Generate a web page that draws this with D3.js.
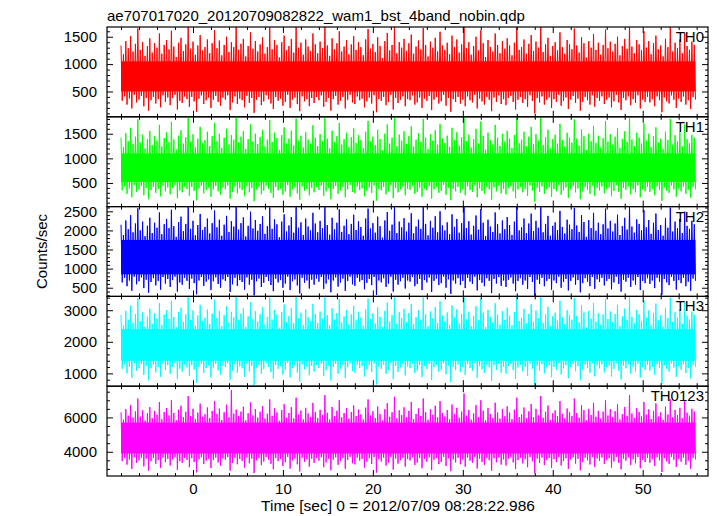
<!DOCTYPE html>
<html><head><meta charset="utf-8">
<script src="https://cdn.jsdelivr.net/npm/d3@7"></script>
<style>
body{margin:0;background:#fff}
svg{display:block}
text{font-family:"Liberation Sans",Arial,Helvetica,sans-serif;fill:#000}
</style>
</head><body>
<svg id="c" width="717" height="516"></svg>
<script>
// ---------------- DATA ----------------
const title = "ae707017020_20120709082822_wam1_bst_4band_nobin.qdp";
const xLabel = "Time [sec] 0 = 2012/07/09 08:28:22.986";
const yLabel = "Counts/sec";
const panelNames = ["TH0", "TH1", "TH2", "TH3", "TH0123"];
const panelColors = ["#ff0000", "#00ff00", "#0000ff", "#00ffff", "#ff00ff"];
const tStart = -8;         // first time bin [s]
const binWidth = 0.26667;  // width of one time bin [s]

// per-bin maximum / minimum count rate
const th0Hi = [1340,1180,1420,1290,1510,1230,1370,1650,1260,1400,1150,1330,1470,1210,1380,1300,1560,1190,1350,1440,
1270,1610,1320,1130,1390,1480,1240,1360,1700,1280,1410,1170,1340,1530,1250,1310,1450,1200,1380,1620,
1290,1430,1160,1350,1500,1220,1400,1310,1740,1260,1370,1460,1140,1330,1580,1280,1420,1230,1360,1490,
1190,1310,1670,1270,1440,1350,1120,1400,1520,1250,1330,1460,1210,1680,1300,1390,1170,1450,1320,1240,
1560,1360,1200,1410,1290,1730,1340,1150,1470,1270,1380,1600,1230,1320,1440,1180,1360,1510,1260,1400,
1310,1160,1450,1640,1280,1370,1220,1490,1330,1110,1420,1570,1250,1350,1700,1200,1400,1300,1460,1240,
1380,1540,1190,1320,1430,1270,1660,1350,1140,1410,1300,1480,1230,1590,1340,1260,1390,1180,1520,1310,
1450,1210,1360,1750,1290,1400,1170,1330,1500,1250,1620,1380,1130,1440,1310,1230,1560,1350,1200,1420,
1280,1470,1340,1160,1390,1690,1260,1310,1450,1190,1370,1530,1240,1410,1300,1720,1220,1360,1480,1150,
1330,1400,1250,1580,1310,1190,1440,1360,1270,1650,1340,1210,1490,1380,1120,1420,1300,1550,1260,1390,
1170,1350,1630,1290,1410,1230,1370,1500,1160,1330,1460,1280,1710,1320,1200,1440,1360,1250,1600,1300,
1420,1180,1380,1520,1270,1340,1140,1460,1310,1680,1230,1390,1290,1450,1200,1570,1330,1260,1410,1350];
const th0Lo = [330,410,260,370,190,440,300,350,420,230,380,150,340,400,280,360,210,430,310,390,
250,380,440,170,330,290,410,360,220,400,320,130,370,430,270,340,390,200,350,420,
310,240,390,350,430,160,300,410,270,370,340,210,420,290,380,110,350,400,250,320,
430,360,280,180,400,330,370,240,310,440,200,350,390,270,140,410,320,360,230,380,
290,400,340,430,220,310,380,150,360,420,260,330,400,190,350,440,300,270,410,340,
370,210,320,390,280,430,120,360,330,400,250,310,440,170,380,290,350,410,230,360,
340,430,260,300,390,200,370,330,420,160,350,400,280,320,440,240,380,130,360,310,
400,280,350,230,410,340,300,440,190,370,320,260,400,350,140,390,310,430,270,360,
250,380,420,310,170,350,400,290,360,220,430,330,100,380,300,410,260,350,390,200,
360,310,440,240,330,390,180,350,420,290,370,150,310,400,340,260,430,220,380,330,
410,270,350,390,210,320,440,300,160,380,340,410,250,360,290,430,190,350,310,400,
300,360,230,410,340,120,390,320,280,430,350,200,370,310,410,260,340,180,400,350];

const th1Hi = [1420,1230,1510,1350,1620,1290,1440,1790,1320,1480,1200,1390,1560,1270,1450,1360,1680,1240,1410,1530,
1330,1740,1380,1180,1460,1570,1300,1430,1850,1340,1490,1220,1400,1640,1310,1370,1540,1250,1450,1720,
1350,1500,1210,1420,1600,1280,1470,1380,1860,1320,1440,1550,1190,1390,1690,1340,1500,1290,1430,1580,
1240,1380,1780,1330,1520,1410,1170,1470,1630,1300,1400,1560,1260,1810,1360,1460,1220,1530,1380,1300,
1670,1420,1250,1490,1350,1870,1400,1200,1560,1330,1450,1720,1280,1390,1520,1230,1430,1610,1310,1470,
1370,1210,1540,1760,1340,1440,1270,1580,1390,1160,1500,1690,1300,1420,1830,1250,1480,1360,1550,1290,
1450,1650,1240,1380,1510,1330,1800,1420,1190,1490,1360,1570,1280,1700,1400,1310,1460,1230,1620,1370,
1530,1260,1430,1860,1350,1480,1220,1390,1600,1300,1750,1450,1180,1520,1370,1280,1680,1420,1250,1500,
1340,1560,1400,1210,1470,1820,1310,1380,1540,1240,1440,1640,1290,1490,1360,1850,1270,1430,1580,1200,
1390,1480,1300,1700,1370,1240,1520,1420,1320,1790,1400,1260,1590,1450,1170,1500,1350,1660,1310,1460,
1220,1410,1760,1340,1490,1280,1440,1610,1210,1390,1550,1330,1840,1380,1250,1520,1420,1300,1710,1360,
1500,1230,1450,1630,1320,1400,1190,1540,1370,1800,1280,1470,1350,1530,1240,1690,1390,1310,1480,1420];
const th1Lo = [350,430,280,390,210,460,320,370,440,250,400,170,360,420,300,380,230,450,330,410,
270,400,460,190,350,310,430,380,240,420,340,150,390,450,290,360,410,220,370,440,
330,260,410,370,450,180,320,430,290,390,360,230,440,310,400,130,370,420,270,340,
450,380,300,200,420,350,390,260,330,460,220,370,410,290,160,430,340,380,250,400,
310,420,360,450,240,330,400,170,380,440,280,350,420,210,370,460,320,290,430,360,
390,230,340,410,300,450,140,380,350,420,270,330,460,190,400,310,370,430,250,380,
360,450,280,320,410,220,390,350,440,180,370,420,300,340,460,260,400,150,380,330,
420,300,370,250,430,360,320,460,210,390,340,280,420,370,160,410,330,450,290,380,
270,400,440,330,190,370,420,310,380,240,450,350,120,400,320,430,280,370,410,220,
380,330,460,260,350,410,200,370,440,310,390,170,330,420,360,280,450,240,400,350,
430,290,370,410,230,340,460,320,180,400,360,430,270,380,310,450,210,370,330,420,
320,380,250,430,360,140,410,340,300,450,370,220,390,330,430,280,360,200,420,370];

const th2Hi = [2150,1880,2260,2030,2400,1950,2180,2580,2000,2230,1850,2120,2330,1930,2200,2070,2470,1900,2160,2300,
2060,2540,2110,1830,2220,2360,1980,2170,2640,2040,2250,1870,2140,2430,2010,2090,2310,1920,2190,2520,
2080,2280,1860,2150,2380,1960,2240,2100,2650,2020,2190,2340,1840,2120,2490,2050,2270,1990,2170,2370,
1910,2110,2600,2040,2290,2160,1820,2230,2420,1970,2130,2350,1940,2610,2070,2210,1880,2310,2100,2000,
2460,2180,1950,2250,2060,2650,2140,1890,2330,2030,2200,2550,1960,2120,2290,1900,2170,2410,2010,2240,
2090,1860,2310,2570,2050,2190,1940,2360,2110,1810,2260,2480,1990,2150,2630,1930,2230,2080,2320,1970,
2200,2450,1920,2100,2280,2040,2610,2170,1870,2250,2070,2370,1950,2500,2130,2000,2210,1900,2420,2090,
2300,1940,2190,2650,2060,2240,1890,2120,2390,2020,2560,2200,1850,2280,2100,1960,2470,2160,1920,2260,
2030,2350,2140,1880,2230,2620,2000,2080,2310,1930,2180,2440,1980,2250,2070,2640,1950,2170,2380,1860,
2120,2210,2010,2510,2090,1920,2280,2150,2030,2590,2130,1960,2400,2220,1830,2270,2060,2460,1990,2200,
1900,2160,2570,2050,2250,1970,2180,2410,1880,2110,2330,2020,2620,2100,1940,2290,2170,2000,2530,2080,
2270,1910,2200,2440,2010,2140,1860,2320,2070,2600,1970,2230,2060,2300,1930,2490,2120,2040,2250,2160];
const th2Lo = [640,760,540,690,420,790,590,670,770,490,710,370,650,750,560,680,450,780,610,730,
520,700,790,400,640,580,760,680,470,740,620,330,690,780,550,660,720,440,670,770,
600,500,720,680,780,390,590,760,550,700,650,450,770,580,710,300,670,740,520,630,
780,680,570,410,740,640,700,500,610,790,440,670,720,560,350,760,630,690,480,710,
580,740,660,780,470,610,720,380,690,770,530,640,740,420,680,790,590,550,760,660,
700,460,630,730,570,780,310,690,640,750,520,610,790,400,710,580,670,760,480,690,
660,780,540,600,730,440,700,640,770,390,680,740,570,620,790,500,720,340,690,610,
750,570,680,490,760,660,600,790,430,700,630,540,750,680,360,730,610,780,550,690,
520,710,770,610,410,680,750,580,690,470,780,650,290,710,600,760,540,680,730,450,
690,620,790,500,650,730,430,680,770,580,700,380,620,750,660,540,780,470,720,650,
760,560,680,730,460,640,790,600,400,710,660,760,520,690,580,780,440,680,620,750,
600,690,490,760,660,320,730,640,570,780,680,450,700,620,760,540,660,420,740,680];

const th3Hi = [2850,2520,2980,2700,3150,2600,2880,3380,2650,2930,2480,2800,3050,2570,2900,2740,3230,2540,2860,3000,
2720,3300,2790,2460,2940,3080,2630,2870,3440,2690,2990,2510,2830,3170,2660,2760,3020,2560,2890,3330,
2750,2980,2500,2840,3120,2610,2950,2780,3450,2680,2890,3060,2470,2810,3250,2710,2970,2640,2870,3090,
2550,2790,3400,2700,3010,2860,2450,2940,3180,2620,2820,3070,2590,3420,2740,2920,2530,3030,2780,2660,
3200,2880,2600,2960,2730,3450,2850,2520,3060,2700,2910,3350,2610,2800,3000,2550,2870,3140,2680,2950,
2770,2510,3020,3370,2720,2900,2580,3090,2790,2460,2980,3240,2640,2850,3430,2570,2940,2750,3040,2620,
2910,3190,2560,2780,3000,2690,3410,2870,2490,2960,2740,3100,2600,3280,2830,2650,2930,2530,3150,2770,
3030,2590,2880,3450,2710,2950,2500,2820,3130,2680,3360,2920,2470,3010,2790,2610,3220,2860,2540,2970,
2690,3080,2830,2520,2940,3420,2660,2760,3040,2580,2880,3190,2630,2990,2740,3440,2600,2870,3110,2490,
2810,2920,2670,3300,2780,2560,3000,2850,2700,3390,2820,2610,3160,2930,2450,2980,2730,3230,2640,2900,
2540,2860,3350,2720,2960,2620,2880,3170,2500,2800,3050,2690,3430,2790,2580,3010,2870,2660,3310,2760,
2990,2530,2910,3210,2680,2840,2480,3060,2750,3400,2630,2940,2770,3020,2570,3260,2830,2710,2960,2860];
const th3Lo = [1150,1290,1000,1210,860,1320,1080,1180,1300,950,1240,780,1160,1280,1030,1200,890,1310,1110,1260,
980,1220,1330,820,1150,1060,1280,1190,920,1260,1120,700,1210,1310,1010,1170,1250,870,1190,1300,
1090,960,1250,1200,1320,800,1080,1290,1020,1220,1160,890,1300,1060,1240,630,1180,1270,990,1140,
1320,1200,1040,840,1270,1150,1230,960,1110,1330,870,1180,1250,1030,740,1290,1130,1210,940,1240,
1060,1270,1170,1310,920,1100,1250,770,1200,1300,990,1150,1270,850,1190,1320,1070,1020,1280,1170,
1230,900,1130,1260,1040,1310,650,1210,1140,1280,980,1100,1330,820,1240,1050,1190,1290,940,1220,
1170,1310,1010,1090,1260,880,1230,1140,1300,790,1200,1270,1050,1120,1320,970,1250,720,1210,1100,
1280,1040,1200,950,1290,1170,1080,1330,860,1230,1130,1010,1280,1190,760,1260,1110,1310,1020,1210,
990,1240,1300,1100,830,1190,1270,1060,1210,920,1310,1150,620,1240,1090,1290,1000,1190,1260,880,
1210,1120,1330,970,1160,1260,850,1200,1300,1070,1230,780,1120,1280,1170,1020,1320,910,1250,1160,
1290,1030,1190,1250,900,1140,1320,1080,810,1240,1160,1290,990,1210,1060,1310,870,1190,1110,1270,
1090,1220,960,1300,1170,680,1260,1140,1050,1320,1190,890,1230,1120,1290,1010,1170,840,1270,1200];

const th0123Hi = [6300,5870,6480,6100,6720,6000,6350,7100,6050,6420,5820,6250,6600,5950,6380,6150,6900,5900,6320,6550,
6120,7000,6260,5840,6450,6680,6020,6330,7250,6080,6500,5910,6280,6800,6040,6180,6580,5960,6370,6950,
6200,6510,5850,6300,6740,6010,7600,6220,6460,6070,6340,6620,5830,6240,6880,6110,6490,5990,6330,6650,
5930,6210,7050,6090,6530,6290,5810,6430,6770,5980,6260,6600,5940,7150,6160,6400,5880,6560,6230,6030,
6850,6320,5960,6440,6130,7300,6270,5890,6610,6060,6390,7000,6000,6250,6540,5920,6310,6700,6080,6460,
6170,5880,6570,7050,6110,6360,5970,6630,6190,5820,6480,6830,6040,6300,7200,5950,6410,6140,6590,6010,
6380,6900,5910,6200,6520,6080,7100,6310,5860,6470,6150,6680,6000,6950,6260,6050,6430,5900,6750,6180,
6560,5990,6340,7400,6100,6440,5870,6230,6710,6030,7000,6390,5840,6540,6190,5960,6860,6290,5930,6490,
6060,6640,6280,5900,6450,7150,6020,6170,6580,5950,6350,6780,6010,6500,6120,7250,5980,6330,6690,5850,
6240,6410,6070,6950,6210,5940,6520,6300,6080,7100,6260,5990,6720,6420,5830,6500,6140,6850,6040,6380,
5920,6330,7000,6110,6480,6020,6360,6760,5880,6190,6610,6090,7300,6230,5970,6540,6320,6060,6900,6160,
6470,5900,6380,6820,6050,6290,5850,6630,6170,7050,6010,6440,6130,6560,5950,6980,6270,6100,6500,6350];
const th0123Lo = [3450,3650,3250,3550,3000,3680,3350,3500,3660,3150,3600,2900,3450,3640,3300,3520,3050,3670,3400,3580,
3200,3560,3690,2950,3450,3350,3640,3520,3100,3620,3400,2800,3560,3680,3280,3480,3600,3050,3520,3660,
3380,3180,3600,3540,3690,2900,3350,3650,3270,3580,3470,3080,3670,3330,3600,2760,3500,3630,3220,3430,
3690,3540,3300,2980,3630,3450,3570,3180,3390,3700,3020,3500,3610,3270,2850,3650,3420,3560,3130,3590,
3350,3630,3480,3680,3100,3380,3600,2920,3540,3670,3240,3450,3640,3010,3520,3700,3330,3260,3650,3480,
3580,3080,3420,3620,3290,3690,2780,3560,3430,3660,3190,3370,3700,2960,3600,3310,3510,3650,3130,3570,
3490,3680,3230,3360,3630,3040,3580,3420,3670,2930,3540,3640,3280,3400,3700,3170,3610,2870,3560,3380,
3640,3270,3550,3130,3660,3480,3360,3700,3020,3590,3410,3230,3640,3510,2900,3620,3390,3680,3250,3560,
3200,3600,3680,3380,2990,3520,3650,3320,3560,3100,3690,3450,2750,3600,3350,3660,3220,3510,3630,3060,
3570,3400,3700,3200,3460,3620,3000,3540,3670,3310,3590,2920,3400,3650,3500,3260,3690,3110,3610,3460,
3660,3290,3510,3620,3080,3440,3700,3350,2970,3600,3480,3670,3220,3560,3330,3690,3040,3520,3400,3640,
3360,3570,3170,3680,3500,2820,3630,3440,3290,3700,3540,3110,3580,3420,3660,3240,3490,3000,3640,3550];

// dense core of each band (range in which the curve is solid)
const coreBands = [[500, 1050], [520, 1100], [850, 1750], [1400, 2400], [3900, 5700]];

// axes
const xDomain = [-9.56, 57.26];
const xMajorTicks = [0, 10, 20, 30, 40, 50];
const xMinorStep = 2;
const yDomains = [[37, 1678], [20, 1844], [273, 2623], [594, 3438], [2587, 7820]];
const yMajorTicks = [[500, 1000, 1500], [500, 1000, 1500], [500, 1000, 1500, 2000, 2500], [1000, 2000, 3000], [4000, 6000]];
const yMinorSteps = [100, 100, 100, 200, 500];

const hiSeries = [th0Hi, th1Hi, th2Hi, th3Hi, th0123Hi];
const loSeries = [th0Lo, th1Lo, th2Lo, th3Lo, th0123Lo];

// ---------------- DRAW ----------------
const svg = d3.select("#c");
const L = 107, R = 708, T = 27, B = 476;
const nP = panelNames.length;
const ph = (B - T) / nP;
const FS = 15;
const x = d3.scaleLinear().domain(xDomain).range([L, R]);
const xMinor = d3.range(Math.ceil(xDomain[0] / xMinorStep) * xMinorStep, xDomain[1], xMinorStep)
  .filter(v => !xMajorTicks.includes(v));

function styleAxis(g) {
  g.select(".domain").remove();
  g.attr("font-family", '"Liberation Sans",Arial,Helvetica,sans-serif').attr("font-size", FS);
  g.selectAll("line").attr("stroke", "#000").attr("stroke-width", 1);
  g.selectAll("text").attr("fill", "#000");
}

const defs = svg.append("defs");

panelNames.forEach((name, i) => {
  const top = T + i * ph, bot = top + ph;
  const y = d3.scaleLinear().domain(yDomains[i]).range([bot, top]);
  const color = panelColors[i];
  const hi = hiSeries[i], lo = loSeries[i];
  const nb = Math.min(hi.length, lo.length);
  const tEnd = tStart + (nb - 0.5) * binWidth;

  defs.append("clipPath").attr("id", "clip" + i)
    .append("rect").attr("x", L).attr("y", top).attr("width", R - L).attr("height", ph);

  const g = svg.append("g").attr("clip-path", `url(#clip${i})`);

  // solid core
  g.append("rect")
    .attr("x", x(tStart)).attr("width", x(tEnd) - x(tStart))
    .attr("y", y(coreBands[i][1])).attr("height", y(coreBands[i][0]) - y(coreBands[i][1]))
    .attr("fill", color);

  // light curve: alternating max/min samples of each bin
  const pts = [];
  for (let j = 0; j < nb; j++) {
    pts.push([tStart + j * binWidth, hi[j]]);
    pts.push([tStart + j * binWidth + binWidth / 2, lo[j]]);
  }
  const line = d3.line().x(d => x(d[0])).y(d => y(d[1]));
  g.append("path").datum(pts)
    .attr("d", line).attr("fill", "none")
    .attr("stroke", color).attr("stroke-width", 1);

  // y ticks
  const yMin = d3.range(Math.ceil(yDomains[i][0] / yMinorSteps[i]) * yMinorSteps[i], yDomains[i][1], yMinorSteps[i])
    .filter(v => !yMajorTicks[i].includes(v));
  svg.append("g").attr("transform", `translate(${L},0)`)
    .call(d3.axisLeft(y).tickValues(yMajorTicks[i]).tickSize(-6).tickPadding(10).tickFormat(d3.format("d")))
    .call(styleAxis);
  svg.append("g").attr("transform", `translate(${L},0)`)
    .call(d3.axisLeft(y).tickValues(yMin).tickSize(-3).tickFormat(""))
    .call(styleAxis);
  svg.append("g").attr("transform", `translate(${R},0)`)
    .call(d3.axisRight(y).tickValues(yMajorTicks[i]).tickSize(-6).tickFormat(""))
    .call(styleAxis);
  svg.append("g").attr("transform", `translate(${R},0)`)
    .call(d3.axisRight(y).tickValues(yMin).tickSize(-3).tickFormat(""))
    .call(styleAxis);

  // x ticks, top and bottom of each panel
  svg.append("g").attr("transform", `translate(0,${top})`)
    .call(d3.axisTop(x).tickValues(xMajorTicks).tickSize(-6).tickFormat(""))
    .call(styleAxis);
  svg.append("g").attr("transform", `translate(0,${top})`)
    .call(d3.axisTop(x).tickValues(xMinor).tickSize(-3).tickFormat(""))
    .call(styleAxis);
  const isLast = i === nP - 1;
  svg.append("g").attr("transform", `translate(0,${bot})`)
    .call(d3.axisBottom(x).tickValues(xMajorTicks).tickSize(-6).tickPadding(7)
      .tickFormat(isLast ? d3.format("d") : ""))
    .call(styleAxis);
  svg.append("g").attr("transform", `translate(0,${bot})`)
    .call(d3.axisBottom(x).tickValues(xMinor).tickSize(-3).tickFormat(""))
    .call(styleAxis);

  // frame
  svg.append("rect").attr("x", L).attr("y", top).attr("width", R - L).attr("height", ph)
    .attr("fill", "none").attr("stroke", "#000").attr("stroke-width", 1.2);

  // panel label
  svg.append("text").attr("x", 704).attr("y", top + 15)
    .attr("text-anchor", "end").attr("font-size", FS).text(name);
});

// title & axis labels
svg.append("text").attr("x", L).attr("y", 21).attr("font-size", FS).text(title);
svg.append("text").attr("x", 398).attr("y", 511).attr("text-anchor", "middle")
  .attr("font-size", 15.5).text(xLabel);
svg.append("text").attr("transform", `translate(47,${(T + B) / 2}) rotate(-90)`)
  .attr("text-anchor", "middle").attr("font-size", FS).text(yLabel);
</script>
</body></html>
